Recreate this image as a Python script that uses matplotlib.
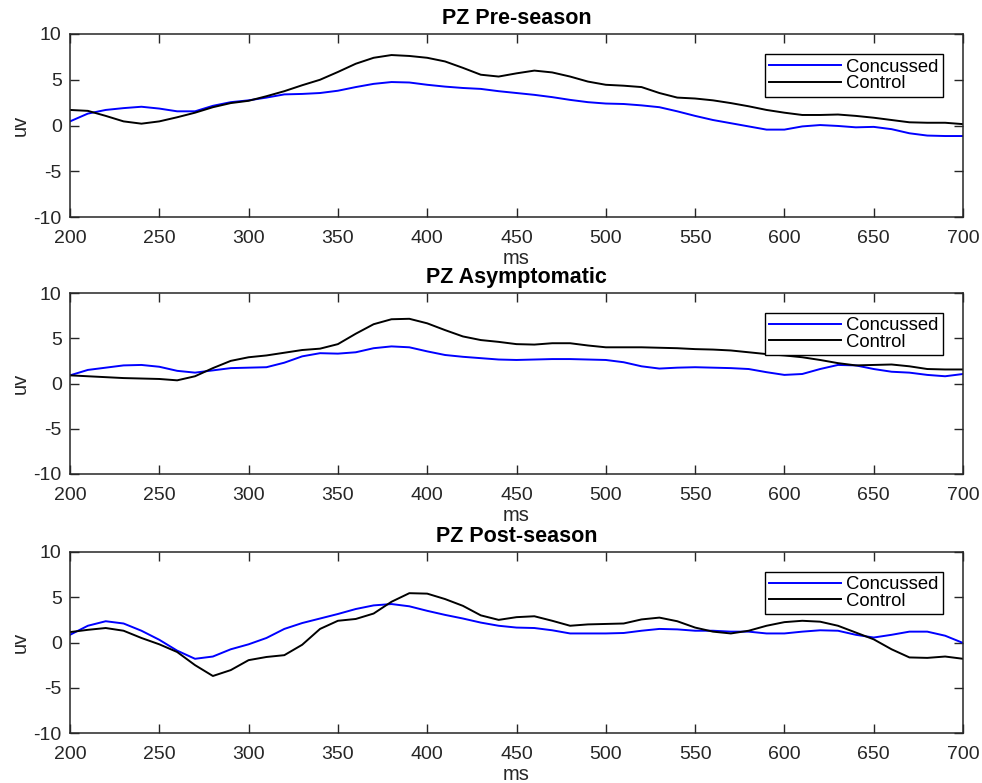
import matplotlib
matplotlib.use('Agg')
import matplotlib.pyplot as plt
import numpy as np

plt.rcParams['font.family'] = ['Liberation Sans', 'DejaVu Sans']
plt.rcParams['axes.unicode_minus'] = False

ms = np.arange(200, 701, 10)

# PZ Pre-season
pre_concussed = [0.45, 1.3, 1.7, 1.9, 2.05, 1.85, 1.55, 1.55, 2.15, 2.55,
                 2.75, 3.05, 3.4, 3.45, 3.55, 3.8, 4.2, 4.55, 4.75, 4.7,
                 4.45, 4.25, 4.1, 4.0, 3.75, 3.55, 3.35, 3.1, 2.8, 2.55,
                 2.4, 2.35, 2.2, 2.0, 1.55, 1.05, 0.6, 0.25, -0.1, -0.45,
                 -0.45, -0.1, 0.05, -0.05, -0.2, -0.15, -0.4, -0.85, -1.1, -1.15,
                 -1.15]
pre_control = [1.7, 1.6, 1.05, 0.45, 0.2, 0.45, 0.9, 1.4, 2.0, 2.45,
               2.7, 3.2, 3.75, 4.4, 5.0, 5.85, 6.75, 7.4, 7.7, 7.6,
               7.4, 7.0, 6.3, 5.55, 5.35, 5.7, 6.0, 5.8, 5.35, 4.8,
               4.45, 4.35, 4.2, 3.55, 3.05, 2.95, 2.75, 2.45, 2.1, 1.7,
               1.4, 1.15, 1.15, 1.2, 1.05, 0.85, 0.6, 0.35, 0.3, 0.3,
               0.15]

# PZ Asymptomatic
asy_concussed = [0.9, 1.5, 1.75, 2.0, 2.05, 1.85, 1.4, 1.2, 1.45, 1.7,
                 1.75, 1.8, 2.3, 3.0, 3.35, 3.3, 3.45, 3.9, 4.1, 4.0,
                 3.55, 3.15, 2.95, 2.8, 2.65, 2.6, 2.65, 2.7, 2.7, 2.65,
                 2.6, 2.35, 1.9, 1.65, 1.75, 1.8, 1.75, 1.7, 1.6, 1.25,
                 0.95, 1.05, 1.6, 2.05, 2.0, 1.6, 1.3, 1.2, 0.95, 0.8,
                 1.05]
asy_control = [0.9, 0.8, 0.7, 0.6, 0.55, 0.5, 0.35, 0.8, 1.7, 2.5,
               2.9, 3.1, 3.4, 3.7, 3.85, 4.35, 5.5, 6.55, 7.1, 7.15,
               6.65, 5.9, 5.2, 4.8, 4.6, 4.35, 4.3, 4.45, 4.45, 4.2,
               4.0, 4.0, 4.0, 3.95, 3.9, 3.8, 3.75, 3.65, 3.45, 3.25,
               3.1, 2.9, 2.6, 2.25, 2.0, 2.05, 2.1, 1.9, 1.6, 1.55,
               1.55]

# PZ Post-season
post_concussed = [0.85, 1.85, 2.35, 2.1, 1.3, 0.3, -0.9, -1.8, -1.55, -0.75,
                  -0.2, 0.5, 1.5, 2.15, 2.65, 3.15, 3.7, 4.1, 4.25, 4.0,
                  3.5, 3.05, 2.65, 2.2, 1.85, 1.65, 1.6, 1.35, 1.0, 1.0,
                  1.0, 1.05, 1.3, 1.5, 1.45, 1.3, 1.3, 1.2, 1.2, 1.0,
                  1.0, 1.2, 1.35, 1.3, 0.85, 0.55, 0.85, 1.2, 1.2, 0.75,
                  -0.05]
post_control = [1.15, 1.4, 1.6, 1.3, 0.5, -0.2, -1.05, -2.5, -3.7, -3.05,
                -1.95, -1.6, -1.4, -0.25, 1.5, 2.4, 2.6, 3.2, 4.5, 5.45,
                5.4, 4.8, 4.05, 3.0, 2.5, 2.8, 2.9, 2.4, 1.85, 2.0,
                2.05, 2.1, 2.55, 2.75, 2.35, 1.65, 1.2, 1.0, 1.3, 1.85,
                2.25, 2.4, 2.3, 1.85, 1.1, 0.35, -0.75, -1.65, -1.7, -1.55,
                -1.8]

titles = ['PZ Pre-season', 'PZ Asymptomatic', 'PZ Post-season']
concussed = [pre_concussed, asy_concussed, post_concussed]
control = [pre_control, asy_control, post_control]

fig = plt.figure(figsize=(9.82, 7.83), dpi=100)
W, H = 982, 783
boxes = [(34, 217), (293, 474), (552, 733)]
axc = '#262626'

for i in range(3):
    top, bot = boxes[i]
    ax = fig.add_axes([70 / W, 1 - bot / H, 893 / W, (bot - top) / H])
    ax.plot(ms, concussed[i], color='#0000ff', lw=1.4, label='Concussed')
    ax.plot(ms, control[i], color='black', lw=1.4, label='Control')
    ax.set_xlim(200, 700)
    ax.set_ylim(-10, 10)
    ax.set_xticks(np.arange(200, 701, 50))
    ax.set_yticks([-10, -5, 0, 5, 10])
    ax.tick_params(direction='in', top=True, right=True, length=6.5,
                   width=1.0, color=axc, labelsize=14, labelcolor=axc)
    ax.tick_params(axis='x', pad=9.5)
    ax.tick_params(axis='y', pad=6)
    for s in ax.spines.values():
        s.set_color(axc)
        s.set_linewidth(1.1)
    ax.set_title(titles[i], fontsize=15.5, fontweight='bold', pad=7.5)
    ax.set_xlabel('ms', fontsize=14.5, color=axc, labelpad=1.5)
    ax.set_ylabel('uv', fontsize=14.5, color=axc, labelpad=3)
    leg = ax.legend(loc='upper right', bbox_to_anchor=(0.978, 0.891),
                    borderaxespad=0, fontsize=13.3, frameon=True,
                    fancybox=False, edgecolor='black', framealpha=1,
                    handlelength=3.9, handletextpad=0.27, labelspacing=-0.03,
                    borderpad=0.25)
    leg.get_frame().set_linewidth(1.0)

fig.savefig('out.png', dpi=100)
